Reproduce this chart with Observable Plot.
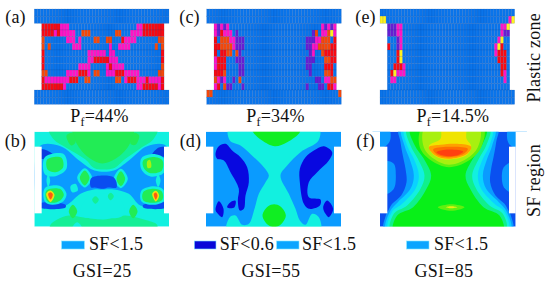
<!DOCTYPE html>
<html><head><meta charset="utf-8">
<script src="https://cdn.jsdelivr.net/npm/d3@7"></script>
<script src="https://cdn.jsdelivr.net/npm/@observablehq/plot@0.6"></script>
<style>html,body{margin:0;padding:0;background:#fff}svg{display:block}</style>
</head><body><div id="chart"></div>
<script>
// Plastic-zone mesh: [row, firstCol, endCol, state]
const spansA = [
[0,0,6,"r"],[0,6,9,"p"],[0,31,33,"p"],[0,33,40,"r"],
[1,0,4,"r"],[1,4,5,"p"],[1,5,6,"r"],[1,6,11,"p"],[1,13,16,"o"],[1,24,26,"o"],[1,29,33,"p"],[1,33,40,"r"],
[2,0,1,"o"],[2,8,11,"p"],[2,12,13,"p"],[2,17,19,"o"],[2,21,23,"o"],[2,26,27,"r"],[2,27,31,"p"],[2,38,40,"o"],
[3,0,1,"o"],[3,2,3,"o"],[3,10,13,"p"],[3,22,23,"p"],[3,25,29,"p"],[3,37,38,"o"],[3,39,40,"o"],
[4,0,1,"r"],[4,15,21,"p"],[4,22,24,"p"],[4,39,40,"r"],
[5,0,1,"r"],[5,15,17,"p"],[5,17,22,"r"],[5,22,25,"p"],[5,39,40,"r"],
[6,0,1,"r"],[6,12,16,"p"],[6,21,22,"p"],[6,22,23,"r"],[6,23,27,"p"],[6,39,40,"o"],
[7,0,2,"o"],[7,8,12,"p"],[7,12,15,"r"],[7,15,16,"p"],[7,17,19,"o"],[7,21,24,"p"],[7,24,27,"r"],[7,27,32,"p"],[7,38,40,"o"],
[8,0,1,"r"],[8,1,9,"p"],[8,9,12,"r"],[8,14,16,"o"],[8,24,26,"o"],[8,27,28,"p"],[8,28,31,"r"],[8,31,34,"p"],[8,34,35,"r"],[8,35,39,"p"],[8,39,40,"r"],
[9,0,7,"r"],[9,7,8,"p"],[9,31,33,"p"],[9,33,38,"r"],[9,38,39,"p"],[9,39,40,"r"]
];
const spansC = [
[0,0,1,"p"],[0,1,2,"u"],[0,2,3,"p"],[0,3,4,"u"],[0,4,5,"p"],[0,35,36,"p"],[0,36,37,"u"],[0,37,38,"p"],[0,38,39,"u"],[0,39,40,"p"],
[1,0,1,"p"],[1,1,2,"u"],[1,2,3,"r"],[1,3,6,"p"],[1,7,8,"u"],[1,32,33,"u"],[1,33,34,"o"],[1,35,37,"p"],[1,37,38,"o"],[1,38,39,"y"],[1,39,40,"p"],
[2,0,1,"r"],[2,2,5,"o"],[2,5,7,"p"],[2,7,10,"u"],[2,30,33,"u"],[2,33,35,"p"],[2,35,38,"o"],[2,39,40,"r"],
[3,0,2,"r"],[3,2,6,"o"],[3,6,7,"p"],[3,7,10,"u"],[3,30,32,"u"],[3,32,34,"p"],[3,34,38,"o"],[3,38,40,"r"],
[4,0,1,"r"],[4,2,4,"r"],[4,4,6,"o"],[4,7,8,"o"],[4,8,9,"u"],[4,31,32,"u"],[4,32,33,"p"],[4,35,36,"o"],[4,36,40,"r"],
[5,0,1,"p"],[5,1,4,"r"],[5,7,10,"u"],[5,30,33,"u"],[5,36,38,"o"],[5,38,40,"r"],
[6,0,1,"p"],[6,1,4,"r"],[6,8,10,"u"],[6,30,32,"u"],[6,36,39,"r"],
[7,0,1,"r"],[7,1,3,"r"],[7,3,4,"o"],[7,8,10,"u"],[7,31,32,"u"],[7,36,38,"o"],[7,38,39,"r"],
[8,0,1,"o"],[8,1,2,"p"],[8,2,3,"u"],[8,3,4,"p"],[8,6,7,"u"],[8,8,9,"o"],[8,33,35,"u"],[8,36,38,"p"],[8,38,40,"o"],
[9,0,1,"p"],[9,1,2,"r"],[9,3,4,"o"],[9,4,6,"u"],[9,9,10,"u"],[9,30,31,"u"],[9,34,36,"u"],[9,37,39,"r"],[9,39,40,"p"]
];
const spansE = [
[0,0,3,"u"],[0,3,5,"p"],[0,37,39,"p"],[0,39,40,"y"],
[1,0,3,"u"],[1,3,5,"p"],[1,37,38,"p"],[1,38,40,"u"],
[2,3,4,"u"],[2,4,5,"p"],[2,36,37,"p"],[2,37,38,"y"],
[3,0,1,"r"],[3,3,4,"u"],[3,4,5,"p"],[3,35,36,"p"],[3,36,37,"y"],[3,37,38,"r"],
[4,3,4,"r"],[4,4,5,"y"],[4,35,36,"p"],[4,36,39,"r"],
[5,3,4,"r"],[5,4,5,"y"],[5,36,39,"r"],
[6,2,5,"r"],[6,5,6,"p"],[6,37,39,"r"],
[7,1,2,"r"],[7,2,3,"y"],[7,3,6,"p"],[7,37,38,"r"],[7,38,39,"p"],
[8,1,3,"p"],[8,38,39,"p"]
];
// block (anchor) cells coloured in the top / bottom blocks: [block, row, firstCol, endCol, state]
const blockSpansC = [["bottom",0,0,2,"o"],["bottom",0,43,44,"o"]];
const blockSpansE = [["top",1,0,2,"y"],["top",1,42,43,"p"],["top",1,43,44,"y"]];

// background colour of each SF panel
const baseX1 = [103,618,1140];
const baseX2 = [507,1023,1547];
const baseFill = ["#12f0e0","#0a9bff","#0a50f0"];

// SF contour bands, painter's order: [colour, boundary points]
const bandsB = [
["#14ef96",[[146,8],[160,42],[200,68],[255,102],[282,128],[340,128],[372,102],[420,68],[458,42],[470,8]]],
["#22ec55",[[218,8],[232,60],[270,100],[305,114],[345,100],[385,60],[398,8]]],
["#22ec55",[[198,30],[215,22],[225,50],[212,60]]],
["#22ec55",[[390,55],[402,22],[416,30],[405,58]]],
["#14ef96",[[150,298],[170,282],[205,270],[250,276],[310,282],[375,270],[430,282],[470,298],[465,318],[150,318]]],
["#0a9bff",[[118,62],[180,62],[240,108],[282,135],[340,135],[385,105],[440,62],[498,62],[498,240],[420,240],[385,205],[340,192],[310,192],[280,192],[240,205],[195,240],[118,240]]],
["#0a4cf0",[[118,234],[195,238],[195,246],[118,246]]],
["#0a4cf0",[[428,238],[498,232],[498,246],[428,246]]],
["#0a3ce0",[[118,72],[140,75],[168,98],[140,100],[118,98]]],
["#0a3ce0",[[498,66],[475,66],[455,88],[475,92],[498,92]]],
["#12f0e0",[[133,95],[190,86],[198,130],[165,152],[133,146]]],
["#12f0e0",[[423,98],[465,86],[490,98],[490,142],[450,153],[423,132]]],
["#22ec55",[[140,102],[182,96],[188,125],[165,140],[142,133]]],
["#22ec55",[[428,105],[465,95],[486,105],[484,135],[450,143],[430,128]]],
["#a8f010",[[440,108],[448,103],[452,125],[442,128]]],
["#12f0e0",[[133,188],[180,182],[198,205],[188,228],[155,238],[133,228]]],
["#12f0e0",[[423,195],[460,182],[488,192],[492,225],[460,238],[423,228]]],
["#22ec55",[[138,195],[178,190],[190,208],[180,224],[155,232],[138,224]]],
["#22ec55",[[428,200],[460,190],[484,198],[486,222],[460,232],[428,224]]],
["#f0e010",[[137,205],[150,195],[162,208],[150,230]]],
["#f0e010",[[455,205],[466,196],[476,210],[466,228]]],
["#ff5a10",[[143,205],[150,200],[157,207],[150,222]]],
["#ff5a10",[[460,206],[466,201],[471,210],[466,222]]],
["#12f0e0",[[138,165],[143,146],[149,165],[143,184]]],
["#12f0e0",[[466,165],[473,146],[480,165],[473,184]]],
["#12f0e0",[[230,157],[253,128],[275,157],[253,186]]],
["#12f0e0",[[340,160],[361,130],[382,160],[361,188]]],
["#22ec55",[[238,157],[253,135],[267,157],[253,180]]],
["#22ec55",[[348,160],[361,137],[374,160],[361,182]]],
["#12f0e0",[[210,182],[225,175],[232,195],[215,200]]],
["#0a4cf0",[[272,158],[340,156],[348,186],[322,186],[310,190],[282,186],[272,186]]],
["#12f0e0",[[240,250],[262,215],[285,200],[310,205],[332,198],[350,210],[372,250],[365,272],[300,278],[245,272]]],
["#14ef96",[[275,222],[285,212],[295,222],[285,235]]],
["#14ef96",[[322,212],[330,202],[340,212],[330,224]]],
["#22ec55",[[205,258],[217,238],[230,258],[217,278]]],
["#22ec55",[[386,258],[398,238],[411,258],[398,278]]],
["#12f0e0",[[215,308],[230,290],[245,308]]]
];
const bandsD = [
["#12f0e0",[[146,5],[148,45],[180,60],[220,95],[250,125],[265,150],[255,170],[235,205],[222,250],[205,295],[185,298],[165,270],[148,275],[140,320],[418,320],[415,275],[395,265],[375,298],[358,285],[345,250],[325,205],[300,150],[320,120],[360,80],[414,45],[414,5]]],
["#10ee22",[[215,5],[218,20],[245,45],[283,62],[320,50],[358,20],[358,5]]],
["#10ee22",[[246,270],[262,243],[281,236],[300,243],[316,270],[300,298],[281,305],[262,298]]],
["#0808e0",[[105,85],[115,62],[135,55],[155,75],[180,95],[200,125],[205,170],[195,210],[190,250],[178,255],[172,225],[175,190],[150,140],[130,105],[110,100]]],
["#0808e0",[[105,253],[115,227],[129,250],[125,275],[112,265]]],
["#0808e0",[[140,245],[150,230],[165,226],[162,245],[150,248]]],
["#0808e0",[[358,130],[375,95],[400,75],[430,62],[455,80],[445,105],[410,140],[385,170],[385,215],[420,222],[418,240],[385,250],[370,235],[358,170]]],
["#0808e0",[[428,245],[440,225],[458,250],[445,275],[435,265]]]
];
const bandsF = [
["#0a9bff",[[40,10],[85,10],[90,40],[78,60],[40,70]]],
["#0a9bff",[[495,10],[445,10],[440,40],[450,60],[495,70]]],
["#0a9bff",[[76,108],[100,115],[106,150],[100,190],[76,205]]],
["#0a9bff",[[452,112],[430,125],[424,150],[430,185],[452,200]]],
["#0a9bff",[[116,5],[120,50],[128,95],[135,130],[138,170],[122,210],[95,235],[85,252],[76,270],[72,320],[455,320],[451,270],[442,252],[432,235],[405,210],[389,170],[392,130],[399,95],[407,50],[411,5]]],
["#0ad2ff",[[125,5],[132,60],[147,100],[160,150],[150,190],[112,230],[90,255],[78,320],[449,320],[437,255],[415,230],[377,190],[367,150],[380,100],[395,60],[402,5]]],
["#12f0e0",[[133,5],[140,60],[160,100],[175,150],[165,190],[125,235],[94,260],[85,320],[442,320],[433,260],[402,235],[362,190],[352,150],[367,100],[387,60],[394,5]]],
["#10f08c",[[140,5],[150,60],[172,100],[192,150],[180,190],[140,240],[100,265],[92,320],[435,320],[427,265],[387,240],[347,190],[335,150],[355,100],[377,60],[387,5]]],
["#08f018",[[150,5],[163,60],[190,100],[212,150],[198,190],[158,245],[110,270],[100,320],[427,320],[417,270],[369,245],[329,190],[315,150],[337,100],[364,60],[377,5]]],
["#60f010",[[186,5],[178,65],[212,105],[265,125],[325,105],[362,65],[368,5]]],
["#a8f010",[[194,5],[190,65],[220,100],[265,118],[318,100],[352,65],[356,5]]],
["#f0e400",[[246,5],[240,40],[205,62],[225,92],[265,102],[320,88],[332,62],[318,40],[314,5]]],
["#ffa000",[[205,65],[240,58],[290,55],[332,64],[320,85],[265,100],[225,90]]],
["#ff7000",[[218,72],[262,64],[322,70],[310,85],[265,95],[228,86]]],
["#ff4010",[[228,80],[265,72],[308,78],[288,90],[248,90]]],
["#60f010",[[232,245],[272,236],[312,245],[272,256]]],
["#e8f010",[[256,245],[272,242],[290,245],[272,248]]]
];

// white areas round the SF panels: [x1,y1,x2,y2]
const masks = [
[0,318,1650,395],[0,680,1650,770],
[0,395,103,680],[507,395,618,680],[1023,395,1140,680],[1547,395,1650,680],
[103,440,125,640],[492,440,507,640],
[618,440,640,640],[1002,440,1023,640],
[1140,440,1162,640],[1527,440,1547,640]
];

const stateColor = {b:"#0a74ea", p:"#ff14c4", r:"#f80a12", o:"#f4480a", u:"#661ed2", y:"#fff21c"};

// Text
const labelText = ["(a)","(c)","(e)","(b)","(d)","(f)"];
const labelX = [45,567,1095,45,570,1095];
const labelY = [50,50,50,422,422,422];
const pfText = ["Pf=44%","Pf=34%","Pf=14.5%"];
const pfX = [297,825,1357];
const pfY = [347,347,347];
const legendText = ["SF<1.5","SF<0.6","SF<1.5","SF<1.5"];
const legendX = [347,739,986,1382];
const legendY = [732,732,732,732];
const gsiText = ["GSI=25","GSI=55","GSI=85"];
const gsiX = [305,811,1330];
const gsiY = [811,811,811];
const swatchX1 = [185,583,830,1220];
const swatchX2 = [253,648,897,1287];
const swatchFill = ["#0aa5ff","#0808d8","#0aa5ff","#0aa5ff"];
const sideText = ["Plastic zone","SF region"];
const sideX = [1600,1600];
const sideY = [172,540];

// Expand meshes through the spans
const colW = 9.18, rowH = 20, blockH = 21.5;
function mesh(left, spans, blockSpans){
  const cells = [];
  const state = new Map();
  for (const [r,a,b,s] of spans) for (let c=a;c<b;c++) state.set(`w${r}:${c}`,s);
  for (const [k,r,a,b,s] of blockSpans) for (let c=a;c<b;c++) state.set(`${k}${r}:${c}`,s);
  for (let r=0;r<10;r++) for (let c=0;c<40;c++) cells.push({x1:left+22+c*colW,x2:left+22+(c+1)*colW,y1:70+r*rowH,y2:70+(r+1)*rowH,s:state.get(`w${r}:${c}`)||"b"});
  for (let c=0;c<44;c++) for (let r=0;r<2;r++){
    cells.push({x1:left+c*colW,x2:left+(c+1)*colW,y1:27+r*blockH,y2:27+(r+1)*blockH,s:state.get(`top${r}:${c}`)||"b"});
    cells.push({x1:left+c*colW,x2:left+(c+1)*colW,y1:270+r*blockH,y2:270+(r+1)*blockH,s:state.get(`bottom${r}:${c}`)||"b"});
  }
  return cells;
}
const cells = [...mesh(103,spansA,[]),...mesh(620,spansC,blockSpansC),...mesh(1140,spansE,blockSpansE)];

function bandRows(bands,dx,dy,tag){
  return bands.flatMap(([color,pts],i)=>pts.map(([x,y])=>({x:x+dx,y:y+dy,color,id:tag+i})));
}
const bandData = [...bandRows(bandsB,0,375,"b"),...bandRows(bandsD,540,375,"d"),...bandRows(bandsF,1080,375,"f")];
const maskData = masks.map(([x1,y1,x2,y2])=>({x1,y1,x2,y2}));
const baseData = baseX1.map((x1,i)=>({x1,x2:baseX2[i],y1:395,y2:680,fill:baseFill[i]}));
const zip = (t,x,y)=>t.map((d,i)=>({t:d,x:x[i],y:y[i]}));
const font = {fontFamily:"'Liberation Serif',serif",fontSize:18,fill:"#111",textAnchor:"middle",lineAnchor:"middle"};
const swatches = swatchX1.map((x1,i)=>({x1,x2:swatchX2[i],y1:723,y2:747,fill:swatchFill[i]}));

const plot = Plot.plot({
  width:550,height:284,margin:0,
  x:{domain:[0,1650],axis:null},
  y:{domain:[852,0],axis:null},
  color:{type:"identity"},
  style:{background:"#fff",overflow:"visible"},
  marks:[
    Plot.rect(cells,{x1:"x1",x2:"x2",y1:"y1",y2:"y2",fill:d=>stateColor[d.s],stroke:"#0a3a90",strokeOpacity:0.3,strokeWidth:0.45}),
    Plot.rect(baseData,{x1:"x1",x2:"x2",y1:"y1",y2:"y2",fill:"fill"}),
    Plot.line(bandData,{x:"x",y:"y",z:"id",fill:"color",stroke:"none",curve:"catmull-rom-closed"}),
    Plot.rect(maskData,{x1:"x1",x2:"x2",y1:"y1",y2:"y2",fill:"#fff"}),
    Plot.rect(swatches,{x1:"x1",x2:"x2",y1:"y1",y2:"y2",fill:"fill",stroke:"#7fe6ff",strokeWidth:0.6}),
    Plot.text(zip(labelText,labelX,labelY),{x:"x",y:"y",text:"t",...font}),
    Plot.text(zip(pfText,pfX,pfY),{x:"x",y:"y",text:"t",...font,className:"pf"}),
    Plot.text(zip(legendText,legendX,legendY),{x:"x",y:"y",text:"t",...font}),
    Plot.text(zip(gsiText,gsiX,gsiY),{x:"x",y:"y",text:"t",...font}),
    Plot.text(zip(sideText,sideX,sideY),{x:"x",y:"y",text:"t",...font,rotate:-90})
  ]
});
d3.select(plot).selectAll("text").style("letter-spacing","0.25px");
d3.select(plot).selectAll("g.pf text").each(function(){
  const s=this.textContent; const t=d3.select(this); t.text(null);
  t.append("tspan").text(s[0]);
  t.append("tspan").attr("dy",4).attr("font-size",12).text(s[1]);
  t.append("tspan").attr("dy",-4).text(s.slice(2));
});
document.getElementById("chart").append(plot);
</script>
</body></html>
